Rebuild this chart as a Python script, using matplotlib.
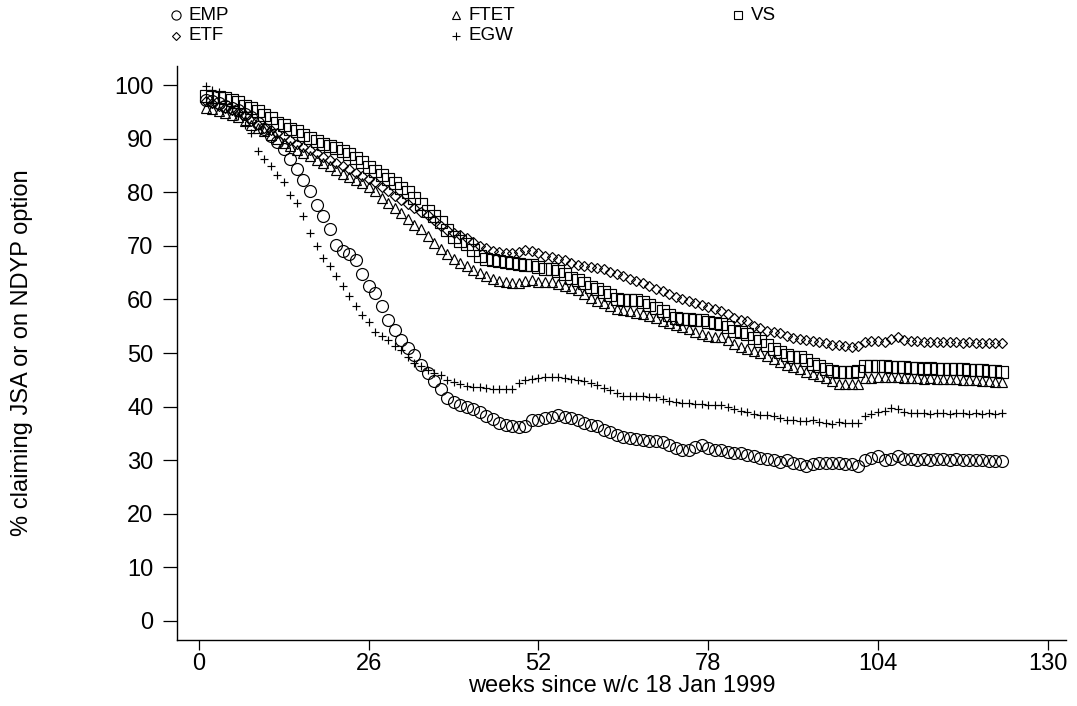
import numpy as np
import matplotlib
matplotlib.use("Agg")
import matplotlib.pyplot as plt
from matplotlib.lines import Line2D

plt.rcParams['font.family'] = ['Liberation Sans', 'DejaVu Sans']

# Percentage of each cohort still claiming JSA or on an NDYP option, by week
emp = [
    97.2, 97.0, 96.6, 96.2, 95.8, 95.3, 94.7, 94.0, 93.0, 91.8,
    90.5, 89.4, 88.1, 86.2, 84.4, 82.4, 80.2, 77.7, 75.5, 73.2,
    70.2, 69.0, 68.4, 67.4, 64.8, 62.6, 61.2, 58.7, 56.2, 54.3,
    52.5, 50.9, 49.6, 47.8, 46.2, 44.7, 43.3, 41.6, 40.8, 40.3,
    39.9, 39.5, 38.9, 38.3, 37.6, 37.0, 36.6, 36.4, 36.1, 36.3,
    37.5, 37.4, 37.8, 38.0, 38.4, 38.1, 37.8, 37.4, 37.0, 36.6,
    36.3, 35.6, 35.3, 34.7, 34.3, 34.1, 33.9, 33.8, 33.5, 33.5,
    33.3, 32.8, 32.2, 31.9, 31.9, 32.5, 32.8, 32.2, 31.9, 31.8,
    31.6, 31.4, 31.3, 31.0, 30.7, 30.4, 30.2, 30.0, 29.7, 30.0,
    29.5, 29.3, 28.9, 29.3, 29.4, 29.5, 29.5, 29.4, 29.3, 29.3,
    28.9, 30.0, 30.4, 30.8, 30.0, 30.2, 30.8, 30.2, 30.2, 30.1,
    30.2, 30.1, 30.2, 30.2, 30.1, 30.2, 30.1, 30.0, 30.1, 30.0,
    29.9, 29.8, 29.9,
]

ftet = [
    95.8, 95.5, 95.2, 94.9, 94.5, 94.0, 93.3, 92.6, 92.0, 91.5,
    90.8, 89.9, 89.2, 88.6, 88.0, 87.4, 86.8, 86.1, 85.5, 84.9,
    84.1, 83.4, 82.8, 82.3, 81.8, 81.0, 80.2, 79.0, 78.1, 77.0,
    76.1, 75.0, 73.9, 73.1, 71.9, 70.6, 69.5, 68.4, 67.6, 66.9,
    66.2, 65.5, 64.9, 64.3, 63.9, 63.5, 63.2, 63.1, 63.1, 63.4,
    63.6, 63.3, 63.3, 63.2, 62.9, 62.6, 62.2, 61.8, 61.0, 60.2,
    59.8, 59.4, 58.8, 58.3, 58.0, 57.8, 57.5, 57.3, 57.0, 56.6,
    56.0, 55.6, 55.2, 54.8, 54.4, 54.0, 53.6, 53.2, 52.9, 53.0,
    52.5, 51.7, 51.2, 50.7, 50.3, 50.0, 49.5, 48.9, 48.3, 47.7,
    47.4, 47.0, 46.4, 46.0, 45.7, 45.4, 44.7, 44.3, 44.2, 44.2,
    44.3, 45.3, 45.4, 45.5, 45.6, 45.5, 45.6, 45.4, 45.3, 45.3,
    45.2, 45.3, 45.2, 45.2, 45.1, 45.1, 45.0, 45.0, 44.9, 44.8,
    44.7, 44.6, 44.5,
]

vs = [
    98.0, 97.9, 97.8, 97.6, 97.3, 96.8, 96.2, 95.8, 95.2, 94.5,
    93.8, 93.0, 92.5, 91.9, 91.4, 90.8, 90.2, 89.6, 89.0, 88.6,
    88.2, 87.8, 87.2, 86.5, 85.7, 84.8, 84.0, 83.2, 82.5, 81.8,
    80.9, 80.0, 79.0, 77.8, 76.6, 75.5, 74.4, 73.0, 71.6, 71.0,
    70.3, 69.3, 68.2, 67.6, 67.4, 67.2, 67.0, 66.8, 66.6, 66.5,
    66.5, 66.1, 65.7, 65.6, 65.3, 64.7, 64.0, 63.6, 63.0, 62.4,
    62.0, 61.4, 60.8, 60.1, 59.9, 59.9, 59.9, 59.6, 59.0, 58.4,
    57.8, 57.1, 56.6, 56.4, 56.3, 56.2, 56.1, 55.8, 55.6, 55.4,
    54.8, 54.2, 54.0, 53.6, 52.8, 52.2, 51.5, 50.7, 50.1, 49.6,
    49.3, 49.3, 48.7, 48.0, 47.6, 47.1, 46.7, 46.5, 46.5, 46.5,
    46.6, 47.5, 47.5, 47.6, 47.5, 47.4, 47.4, 47.3, 47.2, 47.2,
    47.1, 47.2, 47.1, 47.1, 47.0, 47.1, 47.0, 46.9, 46.9, 46.8,
    46.7, 46.6, 46.5,
]

etf = [
    97.0, 96.6, 96.2, 95.8, 95.4, 95.0, 94.4, 93.4, 92.6, 92.1,
    91.6, 91.1, 90.5, 89.8, 89.1, 88.4, 87.9, 87.3, 86.6, 86.0,
    85.5, 85.0, 84.3, 83.6, 83.0, 82.5, 81.9, 81.0, 80.2, 79.4,
    78.6, 77.8, 77.0, 76.4, 75.8, 74.9, 73.8, 73.0, 72.5, 72.0,
    71.5, 70.8, 70.0, 69.6, 69.1, 68.8, 68.7, 68.7, 68.8, 69.3,
    69.0, 68.6, 68.2, 67.9, 67.6, 67.3, 66.9, 66.5, 66.3, 66.1,
    65.8, 65.6, 65.2, 64.7, 64.3, 63.9, 63.5, 63.0, 62.5, 62.0,
    61.6, 61.0, 60.4, 60.0, 59.7, 59.4, 59.0, 58.5, 58.2, 57.9,
    57.2, 56.6, 56.2, 55.9, 55.1, 54.6, 54.2, 54.0, 53.8, 53.2,
    52.8, 52.6, 52.5, 52.3, 52.1, 51.8, 51.5, 51.5, 51.3, 51.1,
    51.3, 52.0, 52.3, 52.3, 52.0, 52.6, 53.0, 52.5, 52.2, 52.2,
    52.1, 52.1, 52.0, 52.1, 52.0, 52.0, 51.9, 52.0, 51.9, 51.9,
    51.8, 51.8, 51.8,
]

egw = [
    99.8, 99.2, 98.8, 97.0, 95.8, 94.2, 92.6, 91.0, 87.8, 86.2,
    84.9, 83.3, 82.0, 79.6, 78.0, 75.5, 72.4, 69.9, 67.7, 66.2,
    64.3, 62.5, 60.6, 58.8, 57.1, 55.7, 54.0, 53.2, 52.5, 51.3,
    50.5, 49.3, 48.2, 47.5, 46.8, 46.2, 45.8, 45.0, 44.5, 44.2,
    43.9, 43.7, 43.6, 43.4, 43.2, 43.2, 43.2, 43.2, 44.4, 44.9,
    45.1, 45.3, 45.6, 45.6, 45.5, 45.4, 45.2, 45.0, 44.8, 44.4,
    44.1, 43.4, 43.0, 42.5, 42.0, 41.9, 41.9, 41.9, 41.8, 41.7,
    41.5, 41.1, 40.9, 40.7, 40.6, 40.5, 40.4, 40.3, 40.3, 40.2,
    40.0, 39.6, 39.1, 38.9, 38.7, 38.5, 38.4, 38.2, 37.9, 37.5,
    37.5, 37.3, 37.3, 37.4, 37.2, 36.9, 36.8, 37.2, 37.0, 37.0,
    37.0, 38.3, 38.6, 38.9, 39.2, 39.8, 39.5, 39.0, 38.8, 38.8,
    38.8, 38.7, 38.8, 38.8, 38.7, 38.8, 38.8, 38.7, 38.8, 38.7,
    38.8, 38.7, 38.8,
]

series_names = ["EMP", "FTET", "VS", "ETF", "EGW"]
series_values = [emp, ftet, vs, etf, egw]

x_ticks = [0, 26, 52, 78, 104, 130]
y_ticks = list(range(0, 101, 10))
x_title = "weeks since w/c 18 Jan 1999"
y_title = "% claiming JSA or on NDYP option"

# marker style per series: (marker, size in plot, size in key)
styles = {
    "EMP": ("o", 8.6, 6.6),
    "FTET": ("^", 6.8, 5.6),
    "VS": ("s", 8.0, 6.4),
    "ETF": ("D", 4.6, 3.8),
    "EGW": ("+", 6.2, 5.6),
}

W, H = 1077, 706
fig = plt.figure(figsize=(W / 100, H / 100), dpi=100)
left, right, bottom, top = 177, 1066, 640, 66
ax = fig.add_axes([left / W, (H - bottom) / H, (right - left) / W, (bottom - top) / H])

for name, vals in zip(series_names, series_values):
    weeks = np.arange(1, len(vals) + 1)
    m, ms, _ = styles[name]
    ax.plot(weeks, vals, linestyle="none", marker=m, markersize=ms,
            markerfacecolor="none", markeredgecolor="black",
            markeredgewidth=0.85, color="black")

ax.set_xlim(-3.37, 132.8)
ax.set_ylim(-3.6, 103.6)
ax.set_xticks(x_ticks)
ax.set_yticks(y_ticks)
ax.tick_params(axis="both", labelsize=17, colors="black", width=0.9)
ax.tick_params(axis="y", length=10, pad=7)
ax.tick_params(axis="x", length=7.5, pad=1.5)

for side in ("top", "right"):
    ax.spines[side].set_visible(False)
for side in ("left", "bottom"):
    ax.spines[side].set_linewidth(1.0)
    ax.spines[side].set_color("black")

ax.set_xlabel(x_title, fontsize=17, labelpad=0)
ax.set_ylabel(y_title, fontsize=17)
ax.yaxis.set_label_coords((33 - left) / (right - left), 0.5)

# key above the plot, three columns
key_pos = {
    "EMP": (176, 15), "FTET": (456, 15), "VS": (738, 15),
    "ETF": (176, 36), "EGW": (456, 36),
}
for name in series_names:
    px, py = key_pos[name]
    m, _, kms = styles[name]
    fig.add_artist(Line2D([px / W], [1 - py / H], transform=fig.transFigure,
                          linestyle="none", marker=m, markersize=kms,
                          markerfacecolor="none", markeredgecolor="black",
                          markeredgewidth=0.8))
    fig.text((px + 13) / W, 1 - py / H, name, fontsize=13.5,
             ha="left", va="center")

fig.savefig("out.png", dpi=100, facecolor="white")
